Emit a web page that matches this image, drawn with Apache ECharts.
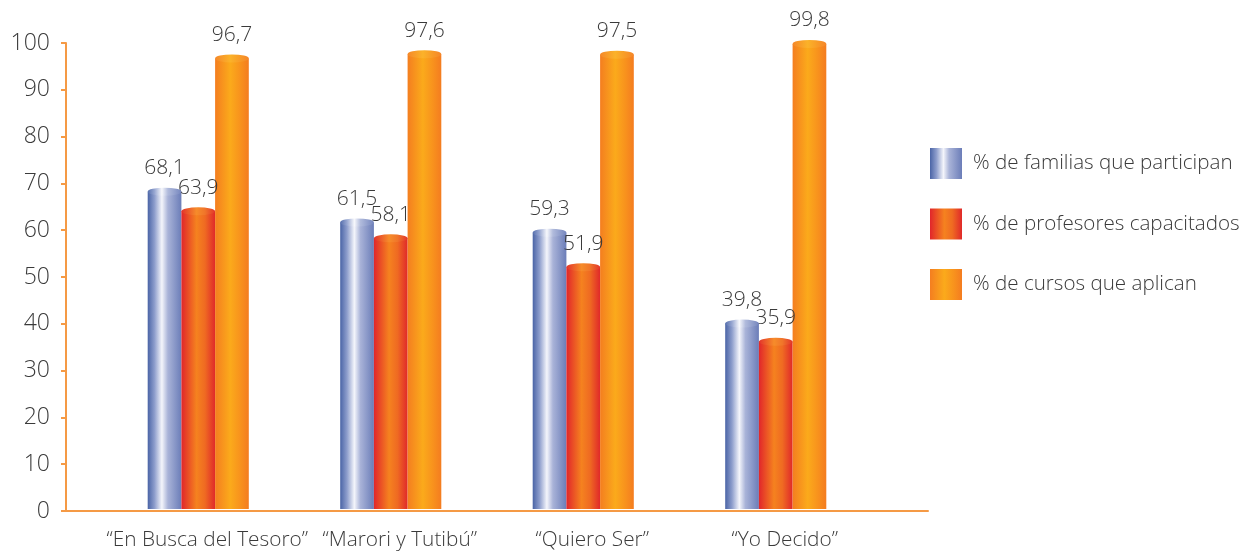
<!DOCTYPE html>
<html>
<head>
<meta charset="utf-8">
<script src="https://cdn.jsdelivr.net/npm/echarts@6/dist/echarts.min.js"></script>
<style>
  html, body { margin: 0; padding: 0; background: #ffffff; }
  #chart { width: 1247px; height: 551px; }
</style>
</head>
<body>
<div id="chart"></div>
<script>
// Programas y sus indicadores (%)
const categories = ['“En Busca del Tesoro”', '“Marori y Tutibú”', '“Quiero Ser”', '“Yo Decido”'];
const seriesNames = ['% de familias que participan', '% de profesores capacitados', '% de cursos que aplican'];
const familias = [68.1, 61.5, 59.3, 39.8];
const profesores = [63.9, 58.1, 51.9, 35.9];
const cursos = [96.7, 97.6, 97.5, 99.8];
const yTicks = [0, 10, 20, 30, 40, 50, 60, 70, 80, 90, 100];

const FONT = '"Open Sans", "Noto Sans", sans-serif';
const WEIGHT = 300;
const TEXT = '#3a3a3a';
const AXIS = '#f59a45';

function grad(stops) {
  return new echarts.graphic.LinearGradient(0, 0, 1, 0,
    stops.map(s => ({ offset: s[0], color: s[1] })));
}
const gradients = [
  () => grad([[0, '#4a64a6'], [0.2, '#8d9dcc'], [0.42, '#f4f5fb'], [0.6, '#a9b3d8'], [1, '#6b7db8']]),
  () => grad([[0, '#e1262b'], [0.45, '#f5821f'], [0.7, '#ef6a22'], [1, '#e0292a']]),
  () => grad([[0, '#f47e20'], [0.45, '#fbaa1b'], [0.75, '#f8921d'], [1, '#f47c20']])
];
const capGradients = [
  () => grad([[0, '#566fad'], [0.2, '#97a6d1'], [0.42, '#f7f8fc'], [0.6, '#b1bbdc'], [1, '#7586be']]),
  () => grad([[0, '#e3332b'], [0.45, '#f68c2a'], [0.7, '#f0752a'], [1, '#e2352b']]),
  () => grad([[0, '#f5882a'], [0.45, '#fbb229'], [0.75, '#f89a27'], [1, '#f5862a']])
];
const values = [familias, profesores, cursos];

const BAR_W = 33.7;
const fmt = v => String(v).replace('.', ',');

const series = [];
values.forEach((vals, i) => {
  series.push({
    name: seriesNames[i],
    type: 'bar',
    xAxisIndex: 1,
    yAxisIndex: 1,
    data: vals,
    barWidth: BAR_W,
    barGap: '0%',
    itemStyle: { color: gradients[i]() },
    label: {
      show: true,
      position: 'top',
      distance: 13,
      formatter: p => fmt(p.value),
      color: TEXT,
      fontFamily: FONT,
      fontWeight: WEIGHT,
      fontSize: 21
    },
    z: 2
  });
});
values.forEach((vals, i) => {
  series.push({
    name: 'cap' + i,
    type: 'pictorialBar',
    xAxisIndex: 1,
    yAxisIndex: 1,
    data: vals,
    symbol: 'circle',
    symbolSize: [BAR_W, 8],
    symbolPosition: 'end',
    symbolOffset: [(i - 1) * BAR_W, '-50%'],
    itemStyle: { color: capGradients[i]() },
    silent: true,
    z: 3
  });
});

const chart = echarts.init(document.getElementById('chart'));
chart.setOption({
  backgroundColor: '#ffffff',
  animation: false,
  legend: {
    data: seriesNames,
    orient: 'vertical',
    left: 930,
    top: 148,
    padding: 0,
    icon: 'rect',
    itemWidth: 32,
    itemHeight: 31,
    itemGap: 29.5,
    textStyle: { color: TEXT, fontFamily: FONT, fontWeight: WEIGHT, fontSize: 20.6, padding: [0, 0, 0, 6] }
  },
  grid: [
    { left: 66, right: 319, top: 43, bottom: 40 },
    { left: 102, right: 375, top: 43, bottom: 40 }
  ],
  xAxis: [
    {
      type: 'category', gridIndex: 0, data: categories,
      axisLine: { lineStyle: { color: AXIS, width: 2 } },
      axisTick: { show: false },
      axisLabel: { show: false }
    },
    {
      type: 'category', gridIndex: 1, data: categories,
      axisLine: { show: false },
      axisTick: { show: false },
      axisLabel: {
        interval: 0, color: TEXT, fontFamily: FONT, fontWeight: WEIGHT,
        fontSize: 20.8, margin: 21, padding: [0, 0, 0, 18]
      }
    }
  ],
  yAxis: [
    {
      type: 'value', gridIndex: 0, min: 0, max: 100, interval: 10,
      axisLine: { show: true, lineStyle: { color: AXIS, width: 2 } },
      axisTick: { show: true, length: 5, lineStyle: { color: AXIS, width: 2 } },
      splitLine: { show: false },
      axisLabel: {
        color: TEXT, fontFamily: FONT, fontWeight: WEIGHT, fontSize: 23, margin: 16,
        formatter: v => (yTicks.includes(v) ? String(v) : '')
      }
    },
    {
      type: 'value', gridIndex: 1, min: 0, max: 100, interval: 10, show: false
    }
  ],
  series: series
});
</script>
</body>
</html>
